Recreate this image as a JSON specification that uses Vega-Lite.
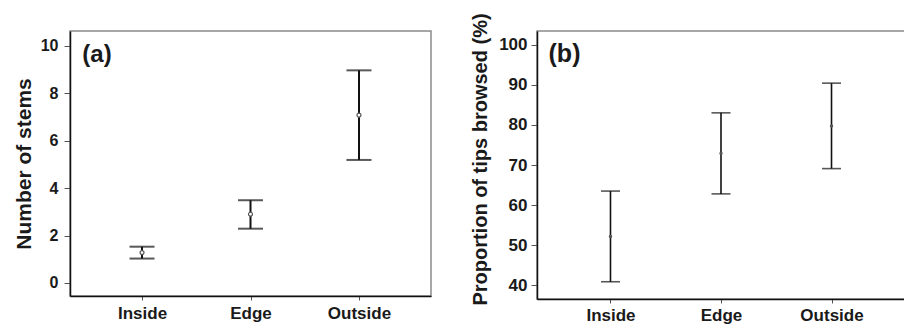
{
  "$schema": "https://vega.github.io/schema/vega-lite/v6.json",
  "background": "white",
  "autosize": {"type": "pad"},
  "padding": {"left": 12, "top": 12, "right": 0, "bottom": 0},
  "bounds": "flush",
  "spacing": 106,
  "config": {
    "font": "Liberation Sans",
    "view": {"stroke": "#8a8a8a", "strokeWidth": 1.5},
    "axis": {
      "grid": false,
      "domainColor": "#111111",
      "domainWidth": 1.5,
      "tickColor": "#555555",
      "tickWidth": 1,
      "tickSize": 6,
      "labelFontWeight": "bold",
      "titleFontWeight": "bold",
      "labelColor": "#1a1a1a",
      "titleColor": "#1a1a1a"
    },
    "axisX": {"tickSize": 4}
  },
  "hconcat": [
    {
      "width": 361,
      "height": 265,
      "data": {"values": [
        {"site": "Inside", "mean": 1.28, "lower": 1.03, "upper": 1.53},
        {"site": "Edge", "mean": 2.9, "lower": 2.29, "upper": 3.49},
        {"site": "Outside", "mean": 7.08, "lower": 5.19, "upper": 8.97}
      ]},
      "encoding": {
        "x": {"field": "site", "type": "nominal",
          "scale": {"type": "point", "padding": 0.664, "domain": ["Inside", "Edge", "Outside"]},
          "axis": {"title": null, "labelAngle": 0, "labelFontSize": 17, "labelPadding": 5}}
      },
      "layer": [
        {
          "mark": {"type": "rule", "strokeWidth": 2, "color": "#111111"},
          "encoding": {
            "y": {"field": "lower", "type": "quantitative",
              "scale": {"domain": [-0.55, 10.63], "nice": false, "zero": false},
              "axis": {"title": "Number of stems", "values": [0, 2, 4, 6, 8, 10], "labelFontSize": 16, "titleFontSize": 21, "labelPadding": 6, "titlePadding": 6}},
            "y2": {"field": "upper"}
          }
        },
        {
          "mark": {"type": "tick", "thickness": 2, "size": 25, "color": "#111111"},
          "encoding": {"y": {"field": "lower", "type": "quantitative", "axis": {"title": "Number of stems"}}}
        },
        {
          "mark": {"type": "tick", "thickness": 2, "size": 25, "color": "#111111"},
          "encoding": {"y": {"field": "upper", "type": "quantitative", "axis": {"title": "Number of stems"}}}
        },
        {
          "mark": {"type": "point", "size": 16, "filled": false, "color": "#555555", "strokeWidth": 1.2, "fill": "white", "fillOpacity": 1},
          "encoding": {"y": {"field": "mean", "type": "quantitative", "axis": {"title": "Number of stems"}}}
        },
        {
          "data": {"values": [{"label": "(a)"}]},
          "mark": {"type": "text", "fontSize": 24, "fontWeight": "bold", "dx": -45, "align": "center", "baseline": "middle", "color": "#1a1a1a"},
          "encoding": {
            "x": {"datum": "Inside"},
            "y": {"datum": 9.62},
            "text": {"field": "label"}
          }
        }
      ]
    },
    {
      "width": 368,
      "height": 268,
      "data": {"values": [
        {"site": "Inside", "mean": 52.2, "lower": 40.9, "upper": 63.5},
        {"site": "Edge", "mean": 72.9, "lower": 62.8, "upper": 83.0},
        {"site": "Outside", "mean": 79.7, "lower": 69.1, "upper": 90.4}
      ]},
      "encoding": {
        "x": {"field": "site", "type": "nominal",
          "scale": {"type": "point", "padding": 0.665, "domain": ["Inside", "Edge", "Outside"]},
          "axis": {"title": null, "labelAngle": 0, "labelFontSize": 17, "labelPadding": 4}}
      },
      "layer": [
        {
          "mark": {"type": "rule", "strokeWidth": 1.6, "color": "#111111"},
          "encoding": {
            "y": {"field": "lower", "type": "quantitative",
              "scale": {"domain": [36.6, 103.4], "nice": false, "zero": false},
              "axis": {"title": "Proportion of tips browsed (%)", "values": [40, 50, 60, 70, 80, 90, 100], "labelFontSize": 17, "titleFontSize": 20, "labelPadding": 4, "titlePadding": 8, "titleY": 128}},
            "y2": {"field": "upper"}
          }
        },
        {
          "mark": {"type": "tick", "thickness": 1.6, "size": 19, "color": "#111111"},
          "encoding": {"y": {"field": "lower", "type": "quantitative", "axis": {"title": "Proportion of tips browsed (%)"}}}
        },
        {
          "mark": {"type": "tick", "thickness": 1.6, "size": 19, "color": "#111111"},
          "encoding": {"y": {"field": "upper", "type": "quantitative", "axis": {"title": "Proportion of tips browsed (%)"}}}
        },
        {
          "mark": {"type": "point", "size": 12, "filled": true, "color": "#555555", "opacity": 1},
          "encoding": {"y": {"field": "mean", "type": "quantitative", "axis": {"title": "Proportion of tips browsed (%)"}}}
        },
        {
          "data": {"values": [{"label": "(b)"}]},
          "mark": {"type": "text", "fontSize": 25, "fontWeight": "bold", "dx": -46, "align": "center", "baseline": "middle", "color": "#1a1a1a"},
          "encoding": {
            "x": {"datum": "Inside"},
            "y": {"datum": 97.7},
            "text": {"field": "label"}
          }
        }
      ]
    }
  ]
}
